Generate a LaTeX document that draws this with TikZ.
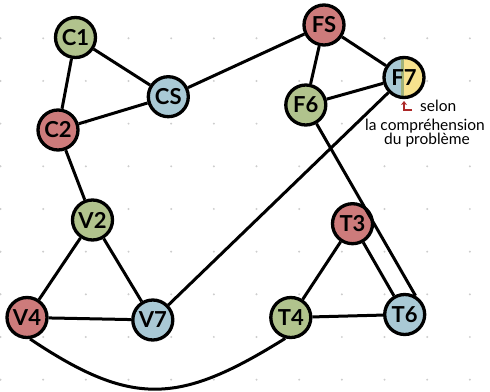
\documentclass[tikz,border=0pt]{standalone}
\usepackage{fontspec}
\setmainfont{Lato}
\usetikzlibrary{arrows.meta}
\definecolor{cgreen}{RGB}{177,195,141}
\definecolor{cred}{RGB}{205,123,123}
\definecolor{cblue}{RGB}{169,201,213}
\definecolor{cyellow}{RGB}{247,226,142}
\definecolor{cstripe}{RGB}{160,178,122}
\definecolor{dotgray}{RGB}{205,205,205}
\definecolor{arrowred}{RGB}{172,40,40}
\tikzset{
  vtx/.style={circle, draw=black, line width=3.3pt, minimum size=40pt, inner sep=0pt,
    font=\fontsize{22}{24}\selectfont\bfseries},
  gv/.style={vtx, fill=cgreen},
  rv/.style={vtx, fill=cred},
  bv/.style={vtx, fill=cblue},
  edge/.style={line width=3pt, black},
  note/.style={font=\fontsize{15.5}{17}\selectfont, inner sep=0pt},
}
\begin{document}
\begin{tikzpicture}[x=1pt,y=-1pt]
\useasboundingbox (0,0) rectangle (490,391);
% grid dots
\foreach \i in {0,...,11} {
  \foreach \j in {0,...,8} {
    \fill[dotgray] ({\i*42.67+0.5},{38.3+\j*42.67}) circle (1.1pt);
  }
}
% nodes
\node[gv] (C1) at (75.5,37.5) {C1};
\node[bv] (CS) at (168.3,96.7) {CS};
\node[rv] (C2) at (58,130) {C2};
\node[rv] (F5) at (324,25) {FS};
\node[vtx, path picture={
    \fill[cblue] (path picture bounding box.south west) rectangle ([xshift=-3.5pt]path picture bounding box.north);
    \fill[cstripe] ([xshift=-3.5pt]path picture bounding box.south) rectangle (path picture bounding box.north);
    \fill[cyellow] (path picture bounding box.south) rectangle (path picture bounding box.north east);
  }] (F7) at (404,77.5) {F7};
\node[gv] (F6) at (305.8,105) {F6};
\node[gv] (V2) at (92.5,220) {V2};
\node[rv] (V4) at (27,317.5) {V4};
\node[bv] (V7) at (152.8,320) {V7};
\node[rv] (T3) at (352.5,223.7) {T3};
\node[gv] (T4) at (290.8,317.5) {T4};
\node[bv] (T6) at (404.7,314.5) {T6};
% edges
\draw[edge] (C1) -- (CS);
\draw[edge] (C1) -- (C2);
\draw[edge] (C2) -- (CS);
\draw[edge] (CS) -- (F5);
\draw[edge] (C2) -- (V2);
\draw[edge] (V2) -- (V4);
\draw[edge] (V2) -- (V7);
\draw[edge] (V4) -- (V7);
\draw[edge] (V7) -- (F7);
\draw[edge] (F5) -- (F6);
\draw[edge] (F5) -- (F7);
\draw[edge] (F6) -- (F7);
\draw[edge] (F6) -- (T6.60);
\draw[edge] (T3) -- (T6);
\draw[edge] (T3) -- (T4);
\draw[edge] (T4) -- (T6);
\draw[edge] (V4.-82) .. controls (133,408) and (180,404) .. (T4.-105);
% annotation
\coordinate (arrS) at (412,110);
\coordinate (arrC) at (404,110);
\coordinate (arrT) at (404,101);
\draw[arrowred, line width=1.8pt, -{Stealth[length=4pt,width=6pt]}] (arrS) -- (arrC) -- (arrT);
\node[note, anchor=west] (n1) at (420,106) {selon};
\node[note] (n2) at (425,126) {la compréhension};
\node[note] (n3) at (427,140) {du problème};
\end{tikzpicture}
\end{document}
